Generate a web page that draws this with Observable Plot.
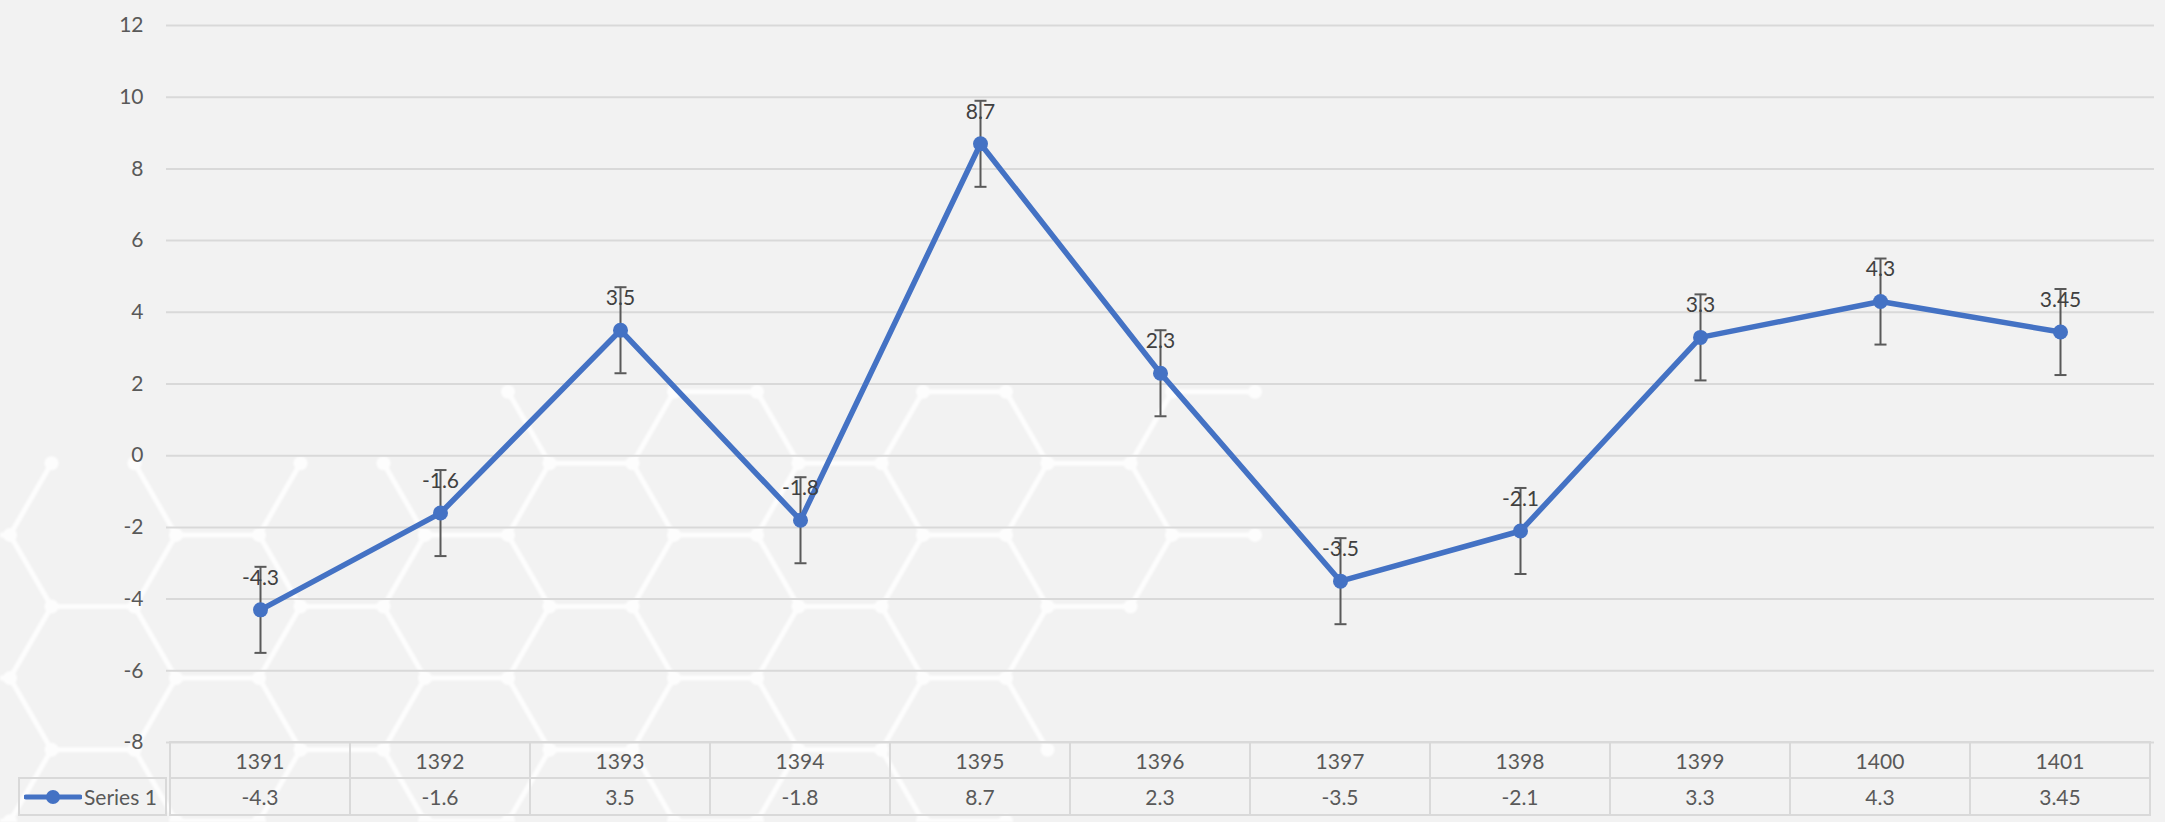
<!DOCTYPE html>
<html><head><meta charset="utf-8">
<script src="https://cdn.jsdelivr.net/npm/d3@7"></script>
<script src="https://cdn.jsdelivr.net/npm/@observablehq/plot@0.6"></script>
<style>
html,body{margin:0;padding:0;background:#F2F2F2;}
#wrap{position:relative;width:2165px;height:822px;overflow:hidden;background:#F2F2F2;font-family:Lato,"Open Sans",sans-serif;}
#bg,#chart{position:absolute;left:0;top:0;}
#bg{filter:blur(0.8px);}
.cell{position:absolute;box-sizing:border-box;border:2px solid #D9D9D9;color:#595959;font-size:21px;display:flex;align-items:center;justify-content:center;}
</style></head>
<body><div id="wrap"><svg id="bg" width="2165" height="822"></svg><div id="chart"></div></div>
<script>
const years = ["1391","1392","1393","1394","1395","1396","1397","1398","1399","1400","1401"];
const values = [-4.3, -1.6, 3.5, -1.8, 8.7, 2.3, -3.5, -2.1, 3.3, 4.3, 3.45];
const errors = [1.2, 1.2, 1.2, 1.2, 1.2, 1.2, 1.2, 1.2, 1.2, 1.2, 1.2];
const yTicks = [-8, -6, -4, -2, 0, 2, 4, 6, 8, 10, 12];
const seriesName = "Series 1";

// ---- decorative hexagon watermark (background styling only) ----
(function drawWatermark() {
  const s = 83, rowH = 71.6, x0 = 923, y0 = 391.7;
  const region = [[-100,480],[480,480],[480,380],[1270,380],[1270,600],[1140,620],[1060,740],[990,830],[-100,830]];
  const edges = [];
  for (let k = -1; k <= 7; k++) {
    const y = y0 + k * rowH;
    const off = (k % 2 === 0) ? 0 : 1.5 * s;
    for (let m = -6; m <= 3; m++) {
      const a = x0 + off + 3 * s * m, b = a + s;
      edges.push([[a, y], [b, y]]);
      edges.push([[b, y], [b + s / 2, y + rowH]]);
      edges.push([[a, y], [a - s / 2, y + rowH]]);
    }
  }
  const kept = edges.filter(([p, q]) => d3.polygonContains(region, [(p[0] + q[0]) / 2, (p[1] + q[1]) / 2]));
  const nodes = new Map();
  kept.forEach(([p, q]) => { nodes.set(p.map(Math.round).join(","), p); nodes.set(q.map(Math.round).join(","), q); });
  const g = d3.select("#bg").append("g").attr("opacity", 0.85);
  g.selectAll("line").data(kept).join("line")
    .attr("x1", d => d[0][0]).attr("y1", d => d[0][1]).attr("x2", d => d[1][0]).attr("y2", d => d[1][1])
    .attr("stroke", "#FFFFFF").attr("stroke-width", 5);
  g.selectAll("circle").data([...nodes.values()]).join("circle")
    .attr("cx", d => d[0]).attr("cy", d => d[1]).attr("r", 7).attr("fill", "#FFFFFF");
})();

const data = years.map((year, i) => ({year, v: values[i], e: errors[i]}));
const blue = "#4472C4";
const capSymbol = {draw(ctx, size) { const w = Math.sqrt(size / Math.PI); ctx.moveTo(-w, 0); ctx.lineTo(w, 0); }};

const W = 2165, H = 744;
const plot = Plot.plot({
  width: W, height: H,
  marginLeft: 166, marginRight: 11, marginTop: 25, marginBottom: 2,
  style: {background: "transparent", color: "#595959", fontFamily: "Lato, 'Open Sans', sans-serif", overflow: "visible"},
  x: {type: "point", domain: years, padding: 0.5, axis: null},
  y: {domain: [-8, 12], axis: null},
  marks: [
    Plot.gridY(yTicks, {stroke: "#D9D9D9", strokeWidth: 2, strokeOpacity: 1}),
    Plot.axisY(yTicks, {tickSize: 0, tickPadding: 23, fontSize: 21, fill: "#595959", label: null, tickFormat: d => String(d)}),
    Plot.ruleX(data, {x: "year", y1: d => d.v - d.e, y2: d => d.v + d.e, stroke: "#595959", strokeWidth: 2}),
    Plot.dot(data, {x: "year", y: d => d.v - d.e, symbol: capSymbol, r: 6, stroke: "#595959", strokeWidth: 2}),
    Plot.dot(data, {x: "year", y: d => d.v + d.e, symbol: capSymbol, r: 6, stroke: "#595959", strokeWidth: 2}),
    Plot.line(data, {x: "year", y: "v", stroke: blue, strokeWidth: 5.5}),
    Plot.dot(data, {x: "year", y: "v", r: 7.5, fill: blue}),
    Plot.text(data, {x: "year", y: "v", text: d => String(d.v), dy: -32, fontSize: 21, fill: "#404040"})
  ]
});
document.getElementById("chart").appendChild(plot);

// data table under the plot, aligned on the x scale
const wrap = document.getElementById("wrap");
const xs = plot.scale("x");
const step = (W - 166 - 11) / years.length;
const rowTop = 741, h1 = 38, h2 = 39;
function cell(left, top, w, h, html) {
  const d = document.createElement("div");
  d.className = "cell";
  d.style.left = left + "px"; d.style.top = top + "px";
  d.style.width = w + "px"; d.style.height = h + "px";
  d.innerHTML = html;
  wrap.appendChild(d);
  return d;
}
years.forEach((y, i) => {
  const cx = xs.apply(y);
  cell(cx - step / 2 - 1, rowTop, step + 2, h1, y);
  cell(cx - step / 2 - 1, rowTop + h1 - 2, step + 2, h2, String(values[i]));
});
const leg = cell(18, rowTop + h1 - 2, 166 - 18 + 1, h2,
  `<svg width="58" height="16" style="margin-right:2px"><line x1="2" y1="8" x2="56" y2="8" stroke="${blue}" stroke-width="5" stroke-linecap="round"/><circle cx="29" cy="8" r="7" fill="${blue}"/></svg>${seriesName}`);
leg.style.justifyContent = "flex-start";
leg.style.paddingLeft = "4px";
</script></body></html>
